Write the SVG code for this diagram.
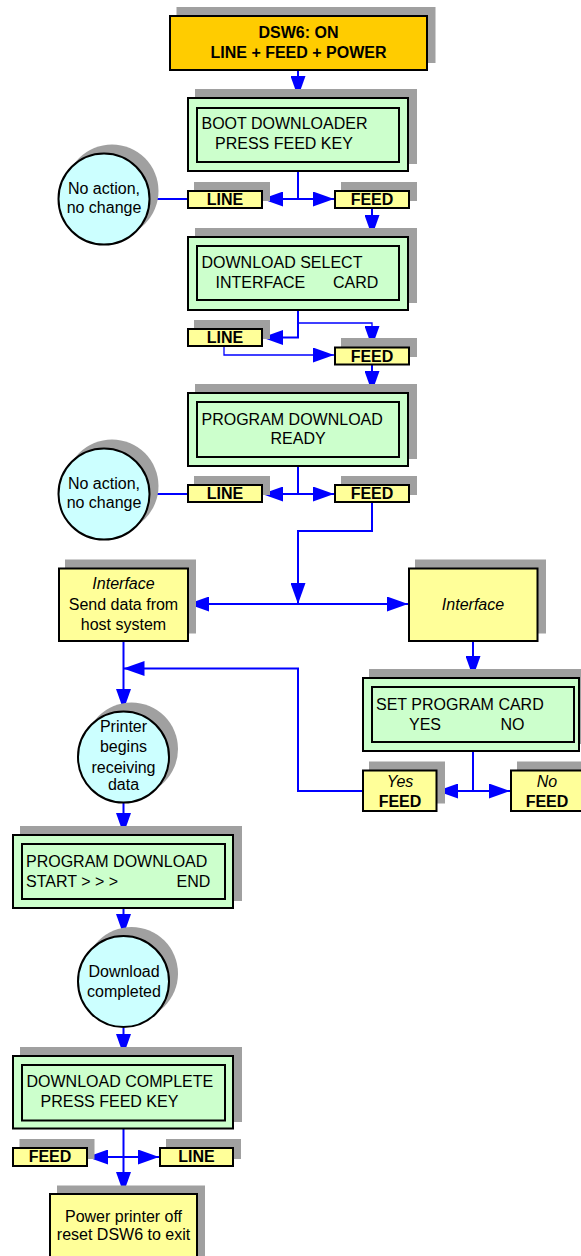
<svg xmlns="http://www.w3.org/2000/svg" width="581" height="1256" viewBox="0 0 581 1256">
<style>
text{font-family:"Liberation Sans",Arial,sans-serif;font-size:16px;fill:#000}
.b{font-weight:bold}
.i{font-style:italic}
.m{text-anchor:middle}
.sh{fill:#a0a0a0}
.box{stroke:#000;stroke-width:2}
.g{fill:#ccffcc}
.y{fill:#ffff99}
.o{fill:#ffcc00}
.c{fill:#ccffff}
.in{fill:none;stroke:#000;stroke-width:2}
.ln{fill:none;stroke:#0000ff;stroke-width:2}
.tn{fill:none;stroke:#0000ff;stroke-width:1.3}
</style>
<defs>
<marker id="ah" markerUnits="userSpaceOnUse" markerWidth="21" markerHeight="15" viewBox="0 0 21 15" refX="21" refY="7.5" orient="auto">
<path d="M0,0 L21,7.5 L0,15 z" fill="#0000ff"/>
</marker>
</defs>

<g id="connectors">
<path class="ln" d="M298,71 V97" marker-end="url(#ah)"/>
<path class="ln" d="M298,172 V199 H262" marker-end="url(#ah)"/>
<path class="ln" d="M298,199 H334" marker-end="url(#ah)"/>
<path class="ln" d="M150,199 H187"/>
<path class="ln" d="M372,208 V236" marker-end="url(#ah)"/>
<path class="ln" d="M298,310 V337.5 H262" marker-end="url(#ah)"/>
<path class="tn" d="M298,323 H372 V347" marker-end="url(#ah)"/>
<path class="tn" d="M224,347 V355 H334" marker-end="url(#ah)"/>
<path class="ln" d="M372,365 V392" marker-end="url(#ah)"/>
<path class="ln" d="M298,467 V494 H262" marker-end="url(#ah)"/>
<path class="ln" d="M298,494 H334" marker-end="url(#ah)"/>
<path class="ln" d="M150,494 H187"/>
<path class="ln" d="M372,503 V531 H298 V604" marker-end="url(#ah)"/>
<path class="ln" d="M298,604 H188" marker-end="url(#ah)"/>
<path class="ln" d="M298,604 H408" marker-end="url(#ah)"/>
<path class="ln" d="M123.5,642 V710" marker-end="url(#ah)"/>
<path class="ln" d="M362,791 H298 V668.5 H123.5" marker-end="url(#ah)"/>
<path class="ln" d="M473,642 V677" marker-end="url(#ah)"/>
<path class="ln" d="M473,752 V791 H437" marker-end="url(#ah)"/>
<path class="ln" d="M473,791 H510" marker-end="url(#ah)"/>
<path class="ln" d="M123.5,803 V834" marker-end="url(#ah)"/>
<path class="ln" d="M123.5,909 V935" marker-end="url(#ah)"/>
<path class="ln" d="M123.5,1028 V1055" marker-end="url(#ah)"/>
<path class="ln" d="M123.5,1129 V1193" marker-end="url(#ah)"/>
<path class="ln" d="M123.5,1157 H87" marker-end="url(#ah)"/>
<path class="ln" d="M123.5,1157 H159" marker-end="url(#ah)"/>
</g>

<g id="start">
<rect class="sh" x="176.5" y="7" width="259" height="56"/>
<rect class="box o" x="170" y="16" width="257" height="54"/>
<text class="b m" x="298.5" y="38">DSW6: ON</text>
<text class="b m" x="298.5" y="58">LINE + FEED + POWER</text>
</g>

<g id="boot">
<rect class="sh" x="195" y="89" width="222" height="75"/>
<rect class="box g" x="188" y="98" width="220" height="73"/>
<rect class="in" x="197" y="108" width="202" height="54"/>
<text x="201.5" y="129">BOOT DOWNLOADER</text>
<text x="215" y="149">PRESS FEED KEY</text>
</g>

<g id="noaction1">
<circle class="sh" cx="112" cy="191" r="46.5"/>
<circle class="box c" cx="104" cy="199" r="45.5"/>
<text class="m" x="104" y="194">No action,</text>
<text class="m" x="104" y="213">no change</text>
</g>

<g id="line1">
<rect class="sh" x="194" y="182" width="76" height="19"/>
<rect class="box y" x="188" y="191" width="74" height="17"/>
<text class="b m" x="225" y="205">LINE</text>
</g>
<g id="feed1">
<rect class="sh" x="341" y="182" width="76" height="19"/>
<rect class="box y" x="335" y="191" width="74" height="17"/>
<text class="b m" x="372" y="205">FEED</text>
</g>

<g id="select">
<rect class="sh" x="195" y="228" width="222" height="75"/>
<rect class="box g" x="188" y="237" width="220" height="73"/>
<rect class="in" x="197" y="246" width="202" height="54"/>
<text x="201.5" y="268">DOWNLOAD SELECT</text>
<text y="288"><tspan x="215.5">INTERFACE</tspan><tspan x="333">CARD</tspan></text>
</g>

<g id="line2">
<rect class="sh" x="194" y="320" width="76" height="19"/>
<rect class="box y" x="188" y="329" width="74" height="17"/>
<text class="b m" x="225" y="343">LINE</text>
</g>
<g id="feed2">
<rect class="sh" x="341" y="338" width="76" height="19"/>
<rect class="box y" x="335" y="347.5" width="74" height="17"/>
<text class="b m" x="372" y="362">FEED</text>
</g>

<g id="ready">
<rect class="sh" x="195" y="384" width="222" height="75"/>
<rect class="box g" x="188" y="393" width="220" height="73"/>
<rect class="in" x="197" y="402" width="202" height="55"/>
<text x="201.5" y="425">PROGRAM DOWNLOAD</text>
<text x="270.5" y="444">READY</text>
</g>

<g id="noaction2">
<circle class="sh" cx="112" cy="486" r="46.5"/>
<circle class="box c" cx="104" cy="494" r="45.5"/>
<text class="m" x="104" y="489">No action,</text>
<text class="m" x="104" y="508">no change</text>
</g>

<g id="line3">
<rect class="sh" x="194" y="476" width="76" height="19"/>
<rect class="box y" x="188" y="485" width="74" height="17"/>
<text class="b m" x="225" y="499">LINE</text>
</g>
<g id="feed3">
<rect class="sh" x="341" y="476" width="76" height="19"/>
<rect class="box y" x="335" y="485" width="74" height="17"/>
<text class="b m" x="372" y="499">FEED</text>
</g>

<g id="ifsend">
<rect class="sh" x="65" y="559.5" width="131" height="74"/>
<rect class="box y" x="59" y="568.5" width="129" height="72.5"/>
<text class="i m" x="123.5" y="589">Interface</text>
<text class="m" x="123.5" y="610">Send data from</text>
<text class="m" x="123.5" y="629.5">host system</text>
</g>

<g id="ifcard">
<rect class="sh" x="415" y="559.5" width="131" height="74"/>
<rect class="box y" x="409" y="568.5" width="128.5" height="72.5"/>
<text class="i m" x="473" y="609.5">Interface</text>
</g>

<g id="setcard">
<rect class="sh" x="369" y="669" width="220" height="75"/>
<rect class="box g" x="363" y="678" width="216" height="73"/>
<rect class="in" x="372" y="687" width="202" height="55"/>
<text x="376" y="710">SET PROGRAM CARD</text>
<text y="730"><tspan x="409">YES</tspan><tspan x="500.5">NO</tspan></text>
</g>

<g id="yesfeed">
<rect class="sh" x="369" y="761.5" width="76" height="42"/>
<rect class="box y" x="363" y="770.5" width="73.5" height="40.5"/>
<text class="i m" x="400" y="787">Yes</text>
<text class="b m" x="400" y="807">FEED</text>
</g>
<g id="nofeed">
<rect class="sh" x="517" y="761.5" width="76" height="42"/>
<rect class="box y" x="511" y="770.5" width="73.5" height="40.5"/>
<text class="i m" x="547" y="787">No</text>
<text class="b m" x="547" y="807">FEED</text>
</g>

<g id="receiving">
<circle class="sh" cx="131.5" cy="749" r="46.5"/>
<circle class="box c" cx="123.5" cy="757" r="45.5"/>
<text class="m" x="123.5" y="732">Printer</text>
<text class="m" x="123.5" y="752">begins</text>
<text class="m" x="123.5" y="772.5">receiving</text>
<text class="m" x="123.5" y="790">data</text>
</g>

<g id="start-dl">
<rect class="sh" x="20" y="826" width="222" height="75"/>
<rect class="box g" x="13" y="835" width="220" height="73"/>
<rect class="in" x="22" y="844" width="203" height="55"/>
<text x="26" y="866.5">PROGRAM DOWNLOAD</text>
<text x="26" y="886.5">START &gt; &gt; &gt;</text>
<text x="176.5" y="886.5">END</text>
</g>

<g id="completed">
<circle class="sh" cx="131.5" cy="973.5" r="46.5"/>
<circle class="box c" cx="123.5" cy="981.5" r="45.5"/>
<text class="m" x="124" y="976.5">Download</text>
<text class="m" x="124" y="996.5">completed</text>
</g>

<g id="complete">
<rect class="sh" x="20" y="1047" width="222" height="75"/>
<rect class="box g" x="13" y="1056" width="220" height="72.5"/>
<rect class="in" x="22" y="1065" width="203" height="55.5"/>
<text x="26.5" y="1086.5">DOWNLOAD COMPLETE</text>
<text x="40.5" y="1106.5">PRESS FEED KEY</text>
</g>

<g id="feed4">
<rect class="sh" x="19.5" y="1139" width="75" height="20"/>
<rect class="box y" x="13" y="1148" width="74" height="18"/>
<text class="b m" x="50" y="1162">FEED</text>
</g>
<g id="line4">
<rect class="sh" x="166" y="1139" width="75" height="20"/>
<rect class="box y" x="160" y="1148" width="73" height="18"/>
<text class="b m" x="196.5" y="1162">LINE</text>
</g>

<g id="poweroff">
<rect class="sh" x="57" y="1185.5" width="148" height="80"/>
<rect class="box y" x="50" y="1194" width="147" height="70"/>
<text class="m" x="123.5" y="1222">Power printer off</text>
<text class="m" x="123.5" y="1240">reset DSW6 to exit</text>
</g>
</svg>
